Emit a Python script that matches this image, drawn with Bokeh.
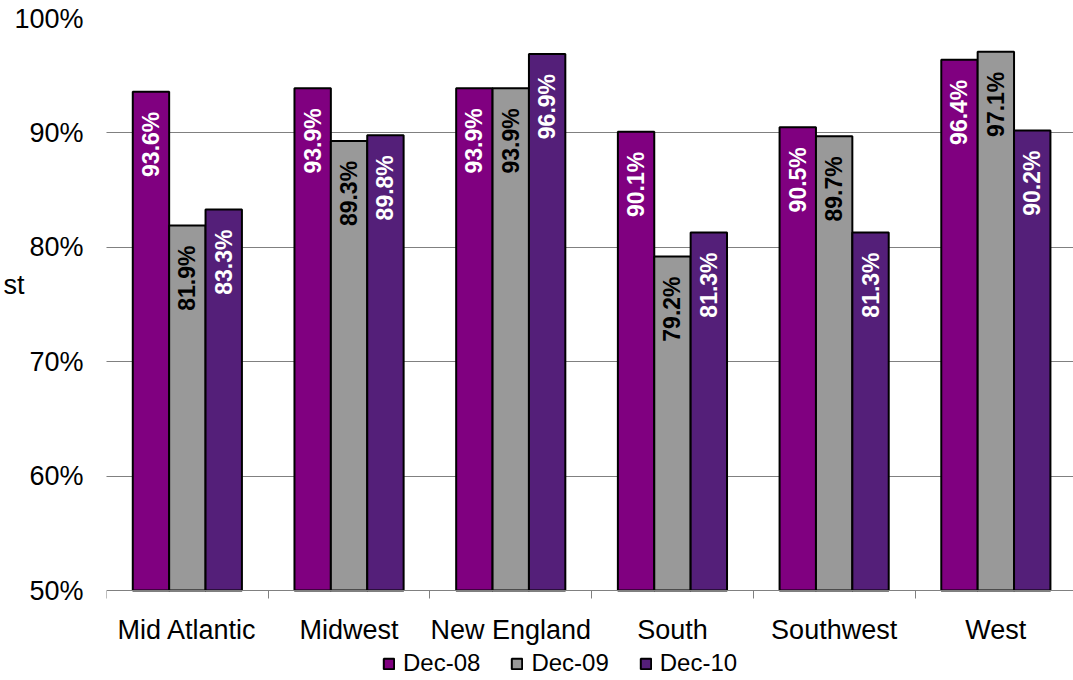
import numpy as np
from bokeh.plotting import figure
from bokeh.models import (ColumnDataSource, Range1d, FixedTicker, Legend,
                          LegendItem, LinearAxis)
from bokeh.transform import dodge
from bokeh.core.properties import value
from bokeh.embed import file_html
from bokeh.resources import INLINE

# Share of target reached, by region and year
regions = ["Mid Atlantic", "Midwest", "New England", "South", "Southwest", "West"]
series = ["Dec-08", "Dec-09", "Dec-10"]
dec08 = [93.6, 93.9, 93.9, 90.1, 90.5, 96.4]
dec09 = [81.9, 89.3, 93.9, 79.2, 89.7, 97.1]
dec10 = [83.3, 89.8, 96.9, 81.3, 81.3, 90.2]
y_ticks = [50, 60, 70, 80, 90, 100]
side_note = "st"
side_note_at = 76.7

colors = ["#800080", "#999999", "#541F79"]
label_colors = ["white", "black", "white"]
FONT = "Liberation Sans"
AXIS_FS = "27px"

cat_px = 161.7          # width of one region slot in pixels
left_px = 106
frame_w = 1073 - left_px
plot_h = 572            # height of the 50%..100% band
foot_h = 90             # room under the baseline for names and legend
y_lo = 50 - foot_h / plot_h * 50
bar_w = 0.225

# the frame runs to the bottom edge; the x axis is pinned at the 50% baseline
p = figure(frame_width=frame_w, frame_height=plot_h + foot_h,
           output_backend="svg", toolbar_location=None,
           x_range=Range1d(0, frame_w / cat_px), y_range=Range1d(y_lo, 100),
           min_border_left=left_px, min_border_right=0, min_border_top=18,
           min_border_bottom=0)
p.outline_line_color = None
p.background_fill_color = "white"

x = np.arange(len(regions)) + 0.5
src = ColumnDataSource(dict(x=x, d08=dec08, d09=dec09, d10=dec10,
                            t08=[f"{v:.1f}%" for v in dec08],
                            t09=[f"{v:.1f}%" for v in dec09],
                            t10=[f"{v:.1f}%" for v in dec10]))

# keep value labels a fixed distance below each bar top
px_to_val = 50 / plot_h
lab_off = 20 * px_to_val
for key in ["d08", "d09", "d10"]:
    src.data["l" + key[1:]] = [v - lab_off for v in src.data[key]]

renderers = []
for i, (key, name) in enumerate(zip(["08", "09", "10"], series)):
    off = (i - 1) * bar_w
    r = p.vbar(x=dodge("x", off), top="d" + key, bottom=50, width=bar_w,
               source=src, fill_color=colors[i], line_color="black",
               line_width=2)
    renderers.append(r)
    p.text(x=dodge("x", off), y="l" + key, text="t" + key, source=src,
           angle=np.pi / 2, text_align="right", text_baseline="middle",
           text_color=label_colors[i], text_font=value(FONT),
           text_font_style="bold", text_font_size="23px")

# y axis: labels only, dotted grid
p.yaxis.ticker = FixedTicker(ticks=y_ticks)
p.yaxis.major_label_overrides = {t: f"{t}%" for t in y_ticks}
p.yaxis.axis_line_color = None
p.yaxis.major_tick_line_color = None
p.yaxis.major_tick_out = 0
p.yaxis.minor_tick_line_color = None
p.yaxis.minor_tick_out = 0
p.yaxis.major_label_standoff = 23
p.yaxis.major_label_text_font = FONT
p.yaxis.major_label_text_font_size = AXIS_FS
p.yaxis.major_label_text_color = "black"
p.ygrid.ticker = FixedTicker(ticks=y_ticks[1:])
p.ygrid.grid_line_color = "black"
p.ygrid.grid_line_dash = "1 1"
p.ygrid.grid_line_width = 1
p.xgrid.grid_line_color = None

# leftover fragment of the side title, tucked against the left edge
note_axis = LinearAxis(ticker=FixedTicker(ticks=[side_note_at]),
                       major_label_overrides={side_note_at: side_note},
                       axis_line_color=None, major_tick_line_color=None,
                       major_tick_out=0, minor_tick_out=0,
                       minor_tick_line_color=None, major_label_standoff=-13,
                       major_label_text_font=FONT,
                       major_label_text_font_size=AXIS_FS,
                       major_label_text_color="black")
p.add_layout(note_axis, "left")

# x axis: region names centred, ticks on slot boundaries
p.xaxis.fixed_location = 50
p.xaxis.ticker = FixedTicker(ticks=list(x),
                             minor_ticks=list(range(len(regions) + 1)))
p.xaxis.major_label_overrides = {float(v): r for v, r in zip(x, regions)}
p.xaxis.major_tick_line_color = None
p.xaxis.major_tick_out = 0
p.xaxis.minor_tick_out = 8
p.xaxis.minor_tick_in = 0
p.xaxis.minor_tick_line_color = "#808080"
p.xaxis.axis_line_color = "#808080"
p.xaxis.major_label_standoff = 16
p.xaxis.major_label_text_font = FONT
p.xaxis.major_label_text_font_size = AXIS_FS
p.xaxis.major_label_text_color = "black"

# horizontal legend along the bottom edge
legend = Legend(items=[LegendItem(label=s, renderers=[r])
                       for s, r in zip(series, renderers)],
                orientation="horizontal", location=(276, 3),
                glyph_width=13, glyph_height=13, label_standoff=8,
                spacing=30, padding=0, margin=0,
                border_line_color=None, background_fill_alpha=0,
                label_text_font=FONT, label_text_font_size="24px",
                label_text_color="black")
p.add_layout(legend, "center")

open("out.html", "w").write(file_html(p, INLINE))
